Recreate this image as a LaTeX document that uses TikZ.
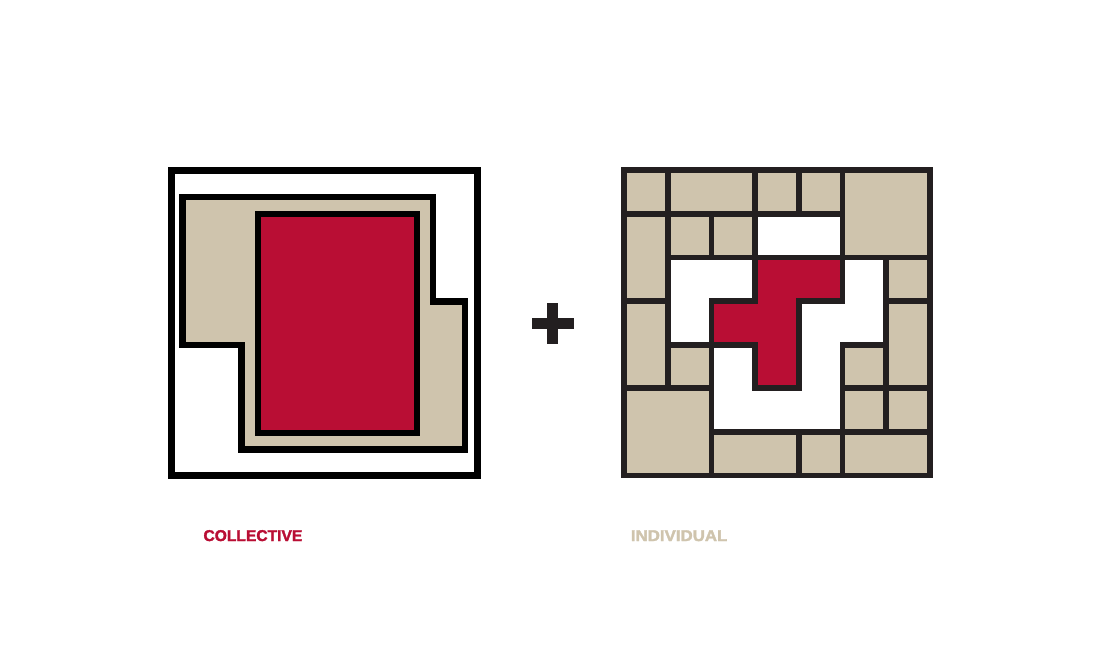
\documentclass[tikz,border=0pt]{standalone}
\usepackage{fontspec}
\setmainfont{Liberation Sans}
\newfontfamily\heavyfont[FakeBold=2]{Liberation Sans Bold}
\definecolor{cred}{RGB}{185,14,52}
\definecolor{cbeige}{RGB}{207,196,173}
\definecolor{cdark}{RGB}{35,31,32}
\tikzset{
  leftline/.style={draw=black,line width=6.5pt,line join=miter},
  gridline/.style={draw=cdark,line width=5.7pt,line join=miter},
  beigeblock/.style={fill=cbeige},
  redblock/.style={fill=cred},
  lbl/.style={inner sep=0pt,anchor=base west,font=\heavyfont\fontsize{15.6}{18}\selectfont}
}
\begin{document}
\begin{tikzpicture}[x=1pt,y=-1pt]
\useasboundingbox (0,0) rectangle (1100,646);
\fill[white] (0,0) rectangle (1100,646);
% ---------- left figure (collective)
\draw[leftline] (171.5,170.5) rectangle (477.5,475.5);
\path[beigeblock,leftline] (182.7,197) -- (433,197) -- (433,301.7) -- (465,301.7) -- (465,449.7) -- (241.7,449.7) -- (241.7,345) -- (182.7,345) -- cycle;
\path[redblock,leftline] (258,214) rectangle (417,433);
% ---------- plus sign
\fill[cdark] (547.3,302.7) rectangle (557.7,344.3);
\fill[cdark] (531.7,318.3) rectangle (574.3,329);
% ---------- right figure (individual)
\begin{scope}[shift={(624,170.3)}]
\begin{scope}[x=43.714pt,y=-43.6pt]
\def\blocks{0/0/1/1,1/0/3/1,3/0/4/1,4/0/5/1,5/0/7/2,0/1/1/3,1/1/2/2,2/1/3/2,6/2/7/3,0/3/1/5,6/3/7/5,1/4/2/5,5/4/6/5,0/5/2/7,5/5/6/6,6/5/7/6,2/6/4/7,4/6/5/7,5/6/7/7}
\foreach \a/\b/\c/\d in \blocks {\fill[cbeige] (\a,\b) rectangle (\c,\d);}
\fill[cred] (3,2) -- (5,2) -- (5,3) -- (4,3) -- (4,5) -- (3,5) -- (3,4) -- (2,4) -- (2,3) -- (3,3) -- cycle;
\foreach \a/\b/\c/\d in \blocks {\draw[gridline] (\a,\b) rectangle (\c,\d);}
\draw[gridline] (3,2) -- (5,2) -- (5,3) -- (4,3) -- (4,5) -- (3,5) -- (3,4) -- (2,4) -- (2,3) -- (3,3) -- cycle;
\draw[gridline] (0,0) rectangle (7,7);
\end{scope}
\end{scope}
% ---------- labels
\node[lbl,text=cred] (collective) at (203.3,541) {COLLECTIVE};
\node[lbl,text=cbeige,xscale=1.08] (individual) at (630.7,541) {INDIVIDUAL};
\end{tikzpicture}
\end{document}
